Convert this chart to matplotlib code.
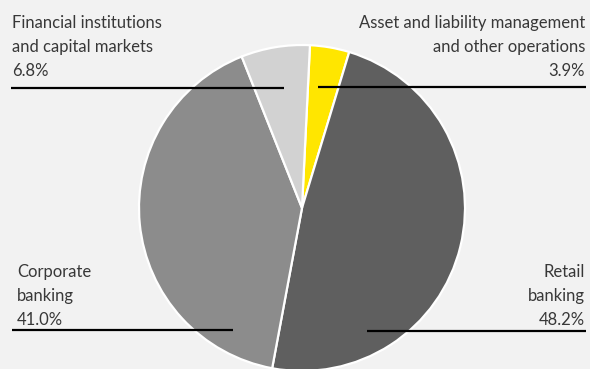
import matplotlib.pyplot as plt

# segment data (clockwise from top)
segments = ['Asset and liability management\nand other operations',
            'Retail\nbanking',
            'Corporate\nbanking',
            'Financial institutions\nand capital markets']
shares = [3.9, 48.2, 41.0, 6.8]
colors = ['#ffe600', '#5f5f5f', '#8c8c8c', '#d2d2d2']

W, H = 590, 369
bg = '#f2f2f2'

fig = plt.figure(figsize=(W / 100, H / 100), dpi=100, facecolor=bg)
ax = fig.add_axes([0, 0, 1, 1])
ax.set_facecolor(bg)

# pie in pixel-like data space (y up)
ax.pie(shares, colors=colors, center=(302, H - 208), radius=163,
       startangle=87.2, counterclock=False,
       wedgeprops=dict(edgecolor='white', linewidth=1.6))
ax.set_xlim(0, W)
ax.set_ylim(0, H)
ax.set_aspect('equal')
ax.axis('off')

# label placement: (text x, first line y, align, leader line x0, x1, y)
layout = [
    (585, 23, 'right', 318, 586, 87),
    (585, 272, 'right', 367, 586, 331),
    (17, 272, 'left', 12, 233, 330),
    (12, 23, 'left', 11, 284, 88),
]

font = dict(family='Lato', fontsize=12, color='#383838')
for name, val, (tx, ty, ha, x0, x1, ly) in zip(segments, shares, layout):
    lines = name.split('\n') + [f'{val:.1f}%']
    for i, line in enumerate(lines):
        ax.text(tx, H - (ty + i * 24), line, ha=ha, va='center', **font)
    ax.plot([x0, x1], [H - ly, H - ly], color='black', lw=1.6,
            solid_capstyle='butt')

fig.savefig('out.png', dpi=100, facecolor=bg)
